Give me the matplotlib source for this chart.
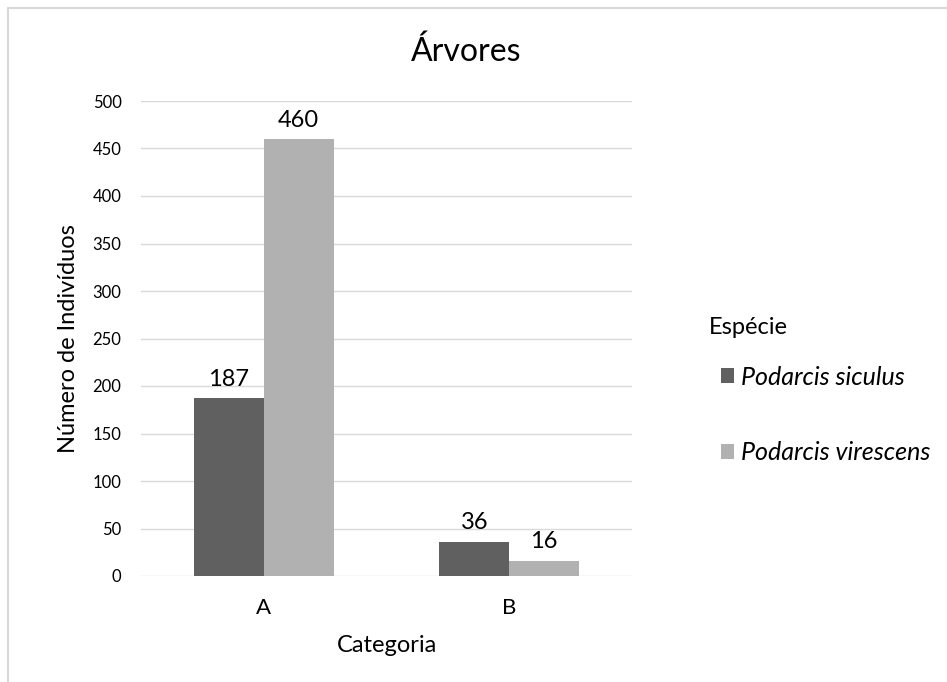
import numpy as np
import matplotlib.pyplot as plt
from matplotlib.lines import Line2D

categorias = ['A', 'B']
especies = ['Podarcis siculus', 'Podarcis virescens']
siculus = [187, 36]
virescens = [460, 16]
cores = ['#606060', '#b1b1b1']

plt.rcParams['font.family'] = ['Lato', 'DejaVu Sans']


def main():
    fig = plt.figure(figsize=(9.47, 6.82), dpi=100)
    ax = fig.add_axes([141 / 947, 1 - 576 / 682, (632 - 141) / 947, (576 - 101) / 682])

    x = np.arange(len(categorias))
    w = 0.285
    b1 = ax.bar(x - w / 2, siculus, w, color=cores[0], label=especies[0], zorder=3)
    b2 = ax.bar(x + w / 2, virescens, w, color=cores[1], label=especies[1], zorder=3)
    for bars in (b1, b2):
        ax.bar_label(bars, padding=6, fontsize=17, color='black')

    ax.set_xlim(-0.5, 1.5)
    ax.set_ylim(0, 500)
    ax.set_yticks(range(0, 501, 50))
    ax.set_xticks(x)
    ax.set_xticklabels(categorias, fontsize=16)
    ax.tick_params(axis='y', labelsize=12, length=0, pad=14)
    ax.tick_params(axis='x', length=0, pad=16)
    ax.grid(axis='y', color='#d9d9d9', linewidth=1, zorder=0)
    for s in ax.spines.values():
        s.set_visible(False)

    ax.set_xlabel('Categoria', fontsize=17, labelpad=12)
    ax.set_ylabel('Número de Indivíduos', fontsize=17, labelpad=10)
    fig.text(466 / 947, 1 - 52 / 682, 'Árvores', fontsize=23, ha='center', va='center')

    fig.text(709 / 947, 1 - 327 / 682, 'Espécie', fontsize=17, ha='left', va='center')
    leg = ax.legend(loc='center left', bbox_to_anchor=(698 / 947, 1 - 415 / 682),
                    bbox_transform=fig.transFigure, frameon=False, fontsize=18,
                    handlelength=0.55, handleheight=0.55, handletextpad=0.25, labelspacing=2.1)
    for t in leg.get_texts():
        t.set_style('italic')

    # moldura do gráfico (só topo e esquerda aparecem no recorte)
    fig.add_artist(Line2D([8 / 947, 8 / 947], [0, 1 - 8 / 682], color='#d9d9d9', lw=1.5,
                          transform=fig.transFigure))
    fig.add_artist(Line2D([8 / 947, 1], [1 - 8 / 682, 1 - 8 / 682], color='#d9d9d9', lw=1.5,
                          transform=fig.transFigure))

    fig.savefig('out.png', dpi=100)


if __name__ == "__main__":
    main()
